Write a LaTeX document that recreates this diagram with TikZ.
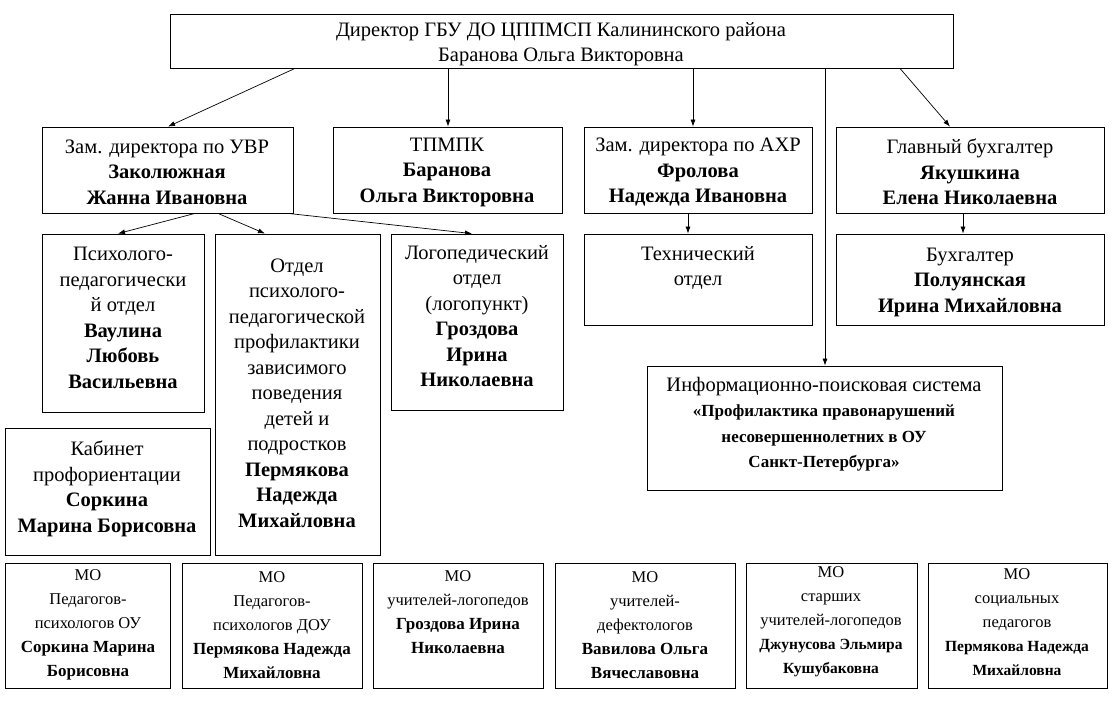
\documentclass[tikz,border=0pt]{standalone}
\usepackage{fontspec}
\setmainfont{Liberation Serif}
\usetikzlibrary{arrows.meta}
\begin{document}
\begin{tikzpicture}[x=1pt,y=-1pt,
  bx/.style={draw,line width=0.8pt,inner sep=0pt},
  tx/.style={align=center,inner sep=0pt,font=\fontsize{20.5}{25.5}\selectfont},
  mt/.style={align=center,inner sep=0pt,font=\fontsize{16.5}{24}\selectfont},
  arr/.style={-{Latex[length=7pt,width=5pt]},line width=0.7pt}]
\useasboundingbox (0,0) rectangle (1114,706);
\newcommand{\bbox}[5]{\node[bx,minimum width=#3-#1,minimum height=#4-#2] (#5) at ({(#1+#3)/2},{(#2+#4)/2}) {};}
\newcommand{\bl}[1]{{\fontsize{17}{24}\selectfont\bfseries #1}}
\newcommand{\bs}[1]{{\fontsize{15.5}{24}\selectfont\bfseries #1}}
\bbox{170}{14}{953}{68}{dir}
\bbox{42}{127}{293}{213}{uvr}
\bbox{333}{127}{562}{213}{tp}
\bbox{584}{127}{812}{213}{axr}
\bbox{836}{127}{1104}{213}{gb}
\bbox{42}{234}{204}{412}{ps}
\bbox{215}{234}{380}{555}{ot}
\bbox{391}{234}{563}{410}{lo}
\bbox{584}{234}{812}{325}{te}
\bbox{836}{234}{1104}{325}{bu}
\bbox{647}{366}{1002}{490}{ips}
\bbox{5}{428}{210}{555}{ka}
\bbox{5}{563}{170}{688}{m1}
\bbox{182}{563}{362}{688}{m2}
\bbox{373}{563}{543}{688}{m3}
\bbox{555}{563}{735}{688}{m4}
\bbox{746}{563}{917}{688}{m5}
\bbox{928}{563}{1107}{688}{m6}

\node[tx] at (561,44) {Директор ГБУ ДО ЦППМСП Калининского района\\Баранова Ольга Викторовна};
\node[tx] at (167,172) {Зам. директора по УВР\\\textbf{Заколюжная}\\\textbf{Жанна Ивановна}};
\node[tx] at (447,172) {ТПМПК\\\textbf{Баранова}\\\textbf{Ольга Викторовна}};
\node[tx] at (698,172) {Зам. директора по АХР\\\textbf{Фролова}\\\textbf{Надежда Ивановна}};
\node[tx] at (970,172) {Главный бухгалтер\\\textbf{Якушкина}\\\textbf{Елена Николаевна}};
\node[tx] at (123,318) {Психолого-\\педагогически\\й отдел\\\textbf{Ваулина}\\\textbf{Любовь}\\\textbf{Васильевна}};
\node[tx] at (297,393) {Отдел\\психолого-\\педагогической\\профилактики\\зависимого\\поведения\\детей и\\подростков\\\textbf{Пермякова}\\\textbf{Надежда}\\\textbf{Михайловна}};
\node[tx] at (477,316) {Логопедический\\отдел\\(логопункт)\\\textbf{Гроздова}\\\textbf{Ирина}\\\textbf{Николаевна}};
\node[tx] at (698,268) {Технический\\отдел};
\node[tx] at (970,282) {Бухгалтер\\\textbf{Полуянская}\\\textbf{Ирина Михайловна}};
\node[tx] at (824,424) {Информационно-поисковая система\\\bl{«Профилактика правонарушений}\\\bl{несовершеннолетних в ОУ}\\\bl{Санкт-Петербурга»}};
\node[tx] at (107,489) {Кабинет\\профориентации\\\textbf{Соркина}\\\textbf{Марина Борисовна}};
\node[mt] at (88,625) {МО\\Педагогов-\\психологов ОУ\\\bl{Соркина Марина}\\\bl{Борисовна}};
\node[mt] at (272,625) {МО\\Педагогов-\\психологов ДОУ\\\bl{Пермякова Надежда}\\\bl{Михайловна}};
\node[mt] at (458,612) {МО\\учителей-логопедов\\\bl{Гроздова Ирина}\\\bl{Николаевна}};
\node[mt] at (645,625) {МО\\учителей-\\дефектологов\\\bl{Вавилова Ольга}\\\bl{Вячеславовна}};
\node[mt] at (831,622) {МО\\старших\\учителей-логопедов\\\bs{Джунусова Эльмира}\\\bs{Кушубаковна}};
\node[mt] at (1017,622) {МО\\социальных\\педагогов\\\bs{Пермякова Надежда}\\\bs{Михайловна}};

\draw[arr] (dir.south -| 295,0) -- (uvr.north -| 168,0);
\draw[arr] (dir.south -| 448,0) -- (tp.north -| 448,0);
\draw[arr] (dir.south -| 693,0) -- (axr.north -| 693,0);
\draw[arr] (dir.south -| 825,0) -- (ips.north -| 825,0);
\draw[arr] (dir.south -| 900,0) -- (gb.north -| 950,0);
\draw[arr] (uvr.south -| 195,0) -- (ps.north -| 118,0);
\draw[arr] (uvr.south -| 218,0) -- (ot.north -| 265,0);
\draw[arr] (uvr.south -| 288,0) -- (lo.north -| 472,0);
\draw[arr] (axr.south -| 688,0) -- (te.north -| 688,0);
\draw[arr] (gb.south -| 963,0) -- (bu.north -| 963,0);
\end{tikzpicture}
\end{document}
